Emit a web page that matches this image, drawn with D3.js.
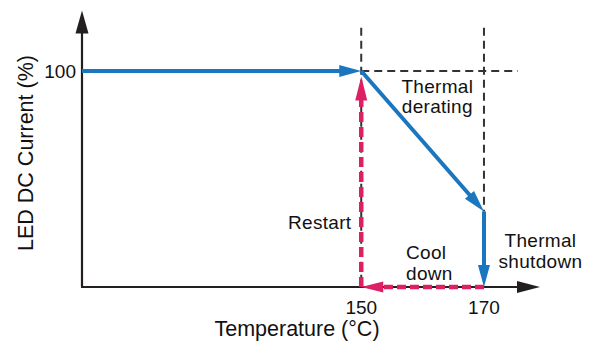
<!DOCTYPE html>
<html>
<head>
<meta charset="utf-8">
<script src="https://cdn.jsdelivr.net/npm/d3@7/dist/d3.min.js"></script>
<style>
  html, body { margin: 0; padding: 0; background: #fff; }
  svg { display: block; font-family: "Liberation Sans", Arial, Helvetica, sans-serif; }
</style>
</head>
<body>
<svg id="chart" width="592" height="343"></svg>
<script>
// Temperature (°C) and LED current (%) values for the thermal protection cycle
const temperatureTicks = [150, 170];
const currentTicks = [100];
const temperatureSpan = [104.5, 177.5];
const currentSpan = [0, 128];

// Normal operation, thermal derating, thermal shutdown (blue, solid)
const normalRun = [[104.5, 100], [150, 100]];
const deratingRun = [[150, 100], [170, 35]];
const shutdownRun = [[170, 35], [170, 0]];
// Cool down and restart (magenta, dashed)
const coolDownRun = [[170, 0], [150, 0]];
const restartRun = [[150, 0], [150, 97.5]];
// Reference guides (black, dashed)
const guideLines = [
  [[150, 120], [150, 0]],
  [[170, 120], [170, 35]],
  [[150, 100], [175.5, 100]]
];
// Annotation labels: [temperature, current, lines, anchor, line step]
const annotations = [
  [162.4, 89.6, ["Thermal", "derating"], "middle", 19.5],
  [148.4, 26.8, ["Restart"], "end", 0],
  [157.3, 13, ["Cool", "down"], "start", 21],
  [179.2, 18.7, ["Thermal", "shutdown"], "middle", 21]
];

const svg = d3.select("#chart");
const x = d3.scaleLinear().domain(temperatureSpan).range([82, 530]);
const y = d3.scaleLinear().domain([0, 100]).range([287, 71]);

const axisColor = "#231f20";
const blue = "#1b76c0";
const magenta = "#dd1f63";

// Filled arrowhead whose tip sits at (tx, ty), pointing along the segment from (fx, fy)
function arrowHead(g, fx, fy, tx, ty, len, wid, color) {
  const a = Math.atan2(ty - fy, tx - fx);
  const bx = tx - len * Math.cos(a), by = ty - len * Math.sin(a);
  const px = -Math.sin(a) * wid / 2, py = Math.cos(a) * wid / 2;
  g.append("path")
    .attr("d", `M${tx},${ty}L${bx + px},${by + py}L${bx - px},${by - py}Z`)
    .attr("fill", color);
  return [bx + (tx - bx) * 0.3, by + (ty - by) * 0.3];
}

// Segment drawn up to the arrowhead, with the head at the final point
function arrowLine(g, pts, color, width, dash, len, wid) {
  const [x0, y0] = [x(pts[0][0]), y(pts[0][1])];
  const [x1, y1] = [x(pts[1][0]), y(pts[1][1])];
  const line = g.append("line")
    .attr("x1", x0).attr("y1", y0)
    .attr("stroke", color).attr("stroke-width", width);
  if (dash) line.attr("stroke-dasharray", dash);
  const [ex, ey] = arrowHead(g, x0, y0, x1, y1, len, wid, color);
  line.attr("x2", ex).attr("y2", ey).lower();
}

// Guides
const guides = svg.append("g");
guideLines.forEach(pts => {
  guides.append("line")
    .attr("x1", x(pts[0][0])).attr("y1", y(pts[0][1]))
    .attr("x2", x(pts[1][0])).attr("y2", y(pts[1][1]))
    .attr("stroke", "#333").attr("stroke-width", 2)
    .attr("stroke-dasharray", "8,5");
});

// Axes with arrowheads
const axes = svg.append("g");
const yTop = y(currentSpan[1]);
axes.append("line")
  .attr("x1", x(temperatureSpan[0])).attr("y1", y(0))
  .attr("x2", x(temperatureSpan[0])).attr("y2", yTop + 15)
  .attr("stroke", axisColor).attr("stroke-width", 2.2);
arrowHead(axes, x(temperatureSpan[0]), y(0), x(temperatureSpan[0]), yTop, 23, 13, axisColor);
axes.append("line")
  .attr("x1", x(temperatureSpan[0]) - 1).attr("y1", y(0))
  .attr("x2", x(temperatureSpan[1])).attr("y2", y(0))
  .attr("stroke", axisColor).attr("stroke-width", 2.2);
arrowHead(axes, x(temperatureSpan[0]), y(0), x(temperatureSpan[1]) + 10, y(0), 23, 12, axisColor);

// Cycle paths
const cycle = svg.append("g");
const cool = cycle.append("g");
arrowLine(cool, coolDownRun, magenta, 4.5, "9,4", 22, 11);
const restart = cycle.append("g");
arrowLine(restart, restartRun, magenta, 4.5, "10,5", 24, 12);
const run = cycle.append("g");
[normalRun, deratingRun, shutdownRun].forEach(pts => {
  const g = run.append("g");
  arrowLine(g, pts, blue, 4, null, 22, 12);
});

// Tick labels
const ticks = svg.append("g").attr("font-size", 19).attr("fill", "#111");
ticks.selectAll("text.t").data(temperatureTicks).join("text")
  .attr("x", d => x(d)).attr("y", 314)
  .attr("text-anchor", "middle").text(d => d);
ticks.selectAll("text.c").data(currentTicks).join("text")
  .attr("x", 76).attr("y", d => y(d) + 6.5)
  .attr("text-anchor", "end").text(d => d);

// Axis titles
svg.append("text")
  .attr("x", 297).attr("y", 336)
  .attr("text-anchor", "middle").attr("font-size", 21.5).attr("fill", "#111")
  .text("Temperature (°C)");
svg.append("text")
  .attr("transform", "translate(33,153) rotate(-90)")
  .attr("text-anchor", "middle").attr("font-size", 21.5).attr("fill", "#111")
  .text("LED DC Current (%)");

// Annotations
const notes = svg.append("g").attr("font-size", 19).attr("fill", "#111")
  .attr("letter-spacing", 0.3);
annotations.forEach(([t, c, lines, anchor, step]) => {
  const txt = notes.append("text")
    .attr("x", x(t)).attr("y", y(c))
    .attr("text-anchor", anchor);
  lines.forEach((s, i) => {
    txt.append("tspan").attr("x", x(t)).attr("dy", i ? step : 0).text(s);
  });
});
</script>
</body>
</html>
